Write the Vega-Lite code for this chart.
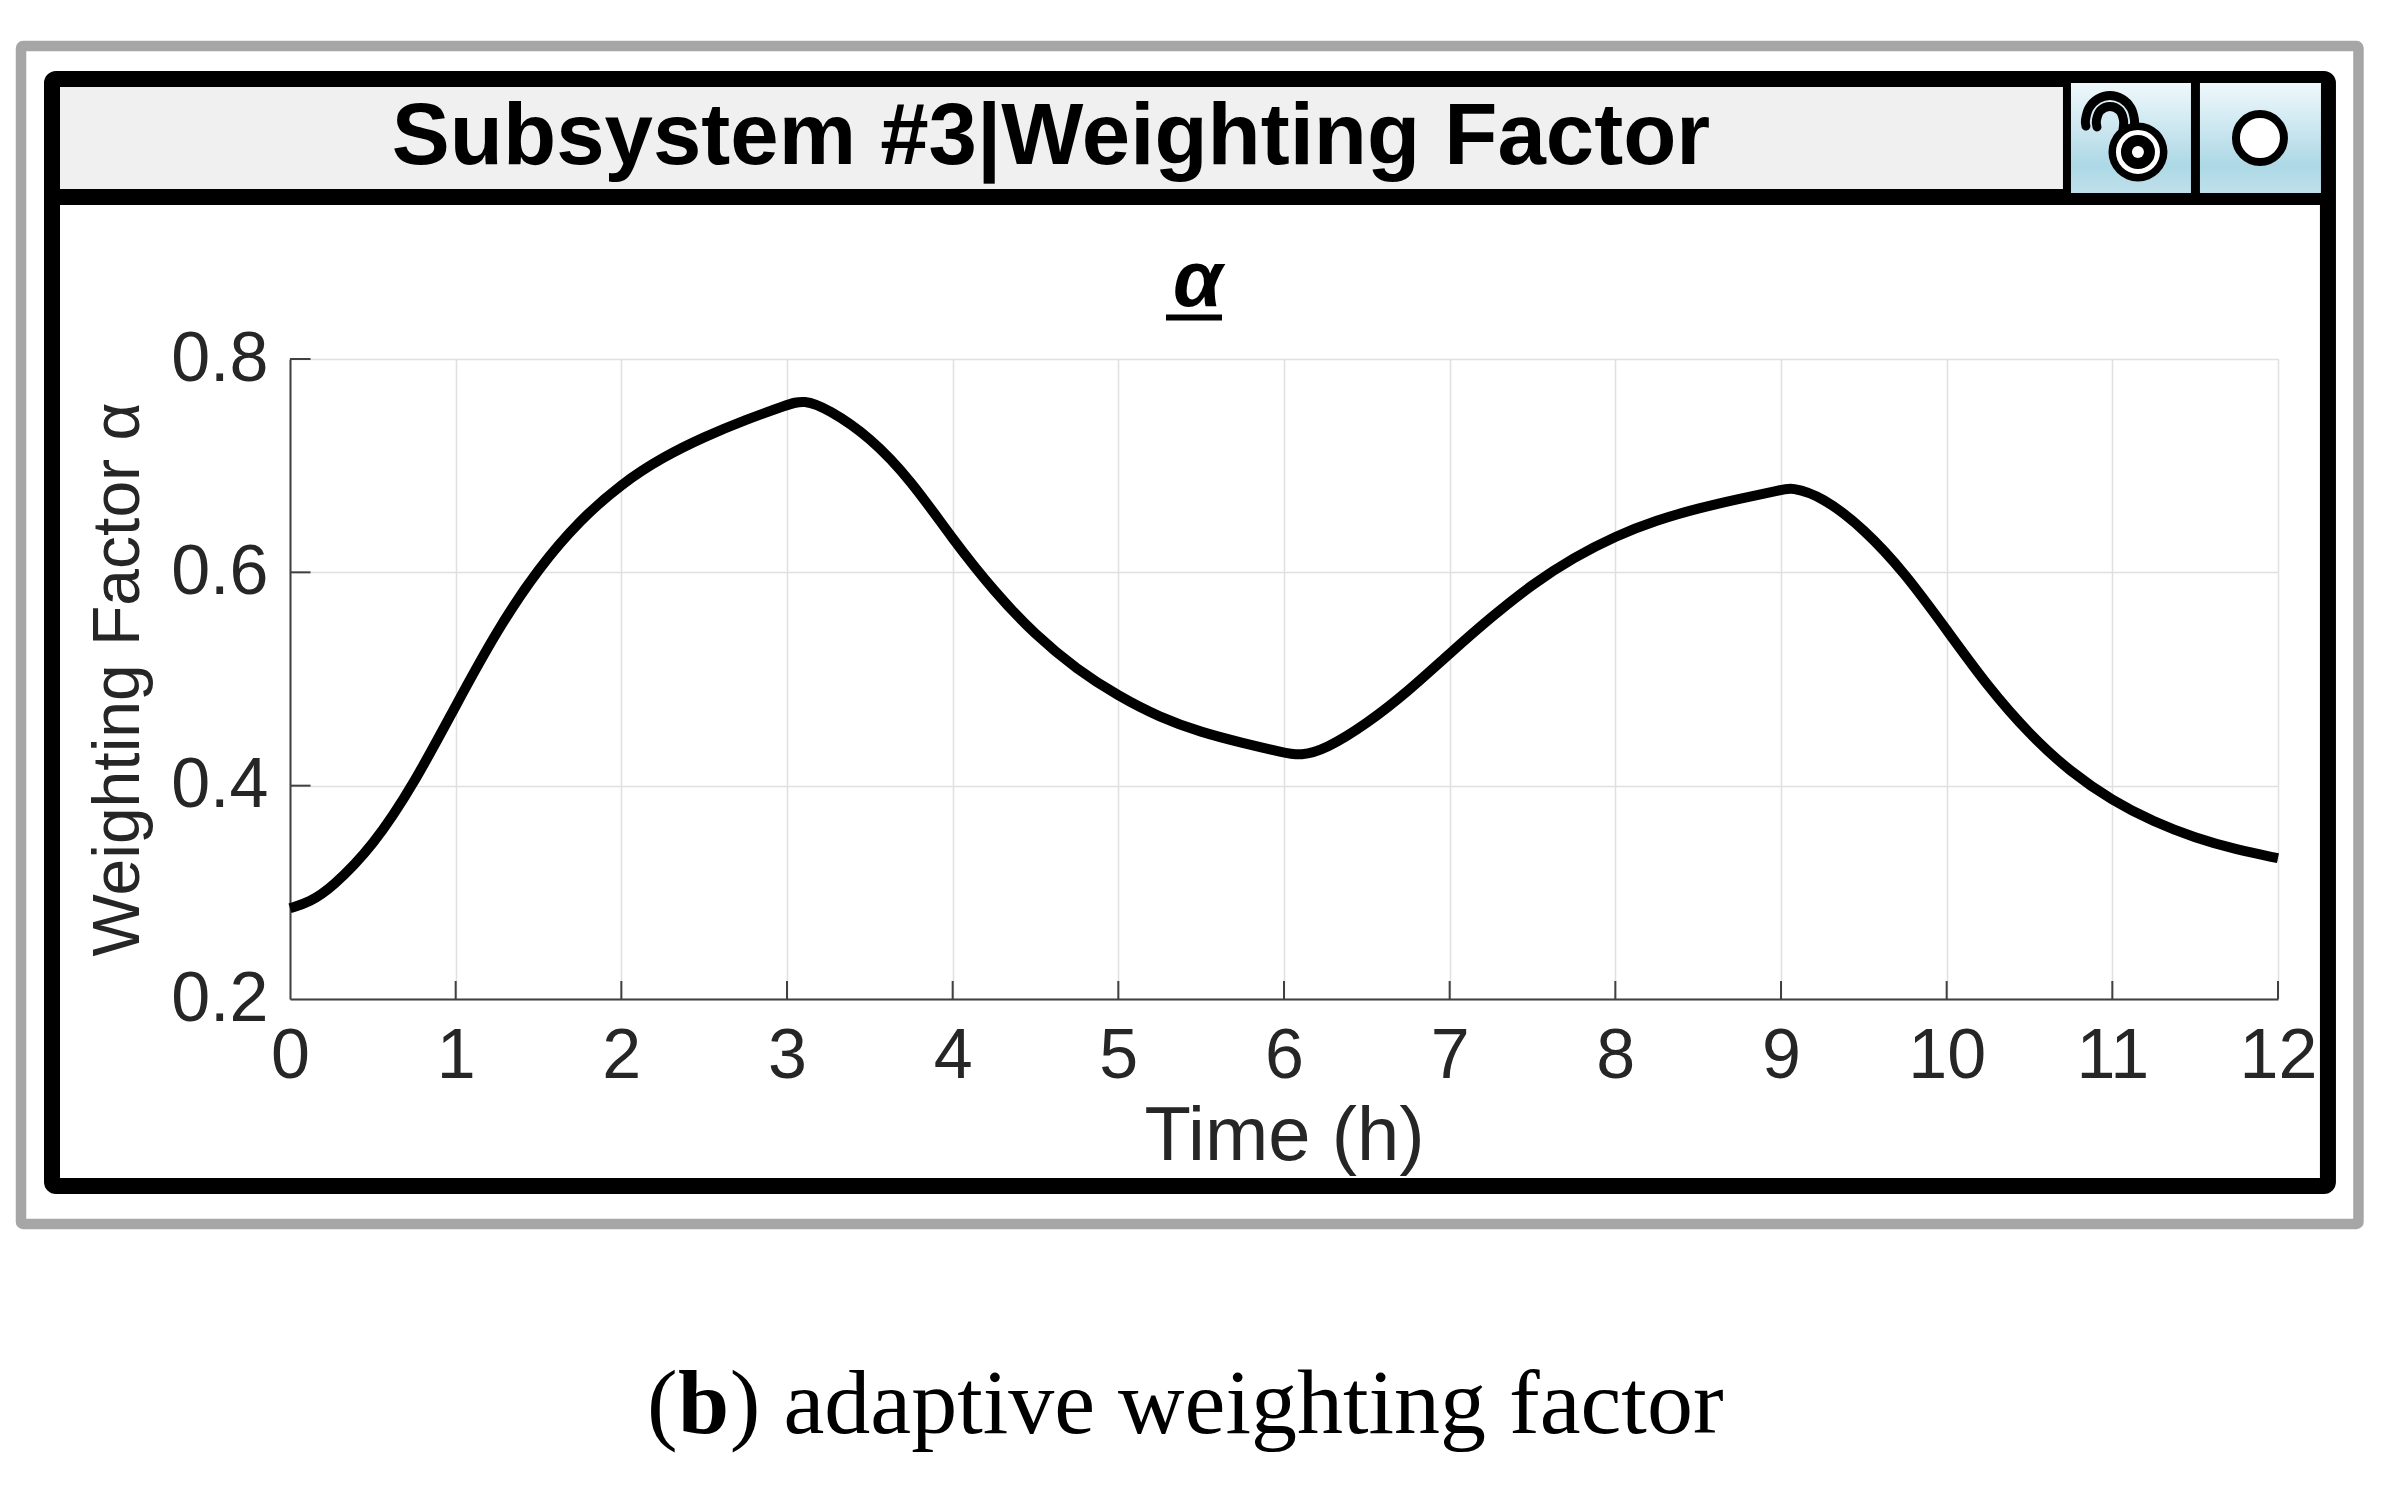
{
  "$schema": "https://vega.github.io/schema/vega-lite/v6.json",
  "width": 1988,
  "height": 640,
  "autosize": {"type": "none"},
  "padding": {"left": 290, "top": 359, "right": 118, "bottom": 489},
  "background": "white",
  "encoding": {
    "x": {"field": "h", "type": "quantitative", "scale": {"domain": [0, 12], "nice": false, "zero": false}},
    "y": {"field": "v", "type": "quantitative", "scale": {"domain": [0.2, 0.8], "nice": false, "zero": false}}
  },
  "layer": [
    {
      "data": {"values": [
        {"h": 0, "v": 0.285}, {"h": 0.12, "v": 0.291}, {"h": 0.25, "v": 0.304}, {"h": 0.5, "v": 0.343}, {"h": 0.75, "v": 0.402},
        {"h": 1, "v": 0.475}, {"h": 1.25, "v": 0.546}, {"h": 1.5, "v": 0.604}, {"h": 1.75, "v": 0.649},
        {"h": 2, "v": 0.683}, {"h": 2.25, "v": 0.708}, {"h": 2.5, "v": 0.727}, {"h": 2.75, "v": 0.743},
        {"h": 3, "v": 0.757}, {"h": 3.1, "v": 0.762}, {"h": 3.25, "v": 0.753}, {"h": 3.5, "v": 0.727},
        {"h": 3.75, "v": 0.686}, {"h": 4, "v": 0.631}, {"h": 4.25, "v": 0.582}, {"h": 4.5, "v": 0.541},
        {"h": 4.75, "v": 0.509}, {"h": 5, "v": 0.484}, {"h": 5.25, "v": 0.464}, {"h": 5.5, "v": 0.45},
        {"h": 5.75, "v": 0.44}, {"h": 6, "v": 0.431}, {"h": 6.1, "v": 0.428}, {"h": 6.25, "v": 0.434},
        {"h": 6.5, "v": 0.458}, {"h": 6.75, "v": 0.4885}, {"h": 7, "v": 0.524}, {"h": 7.25, "v": 0.558},
        {"h": 7.5, "v": 0.589}, {"h": 7.75, "v": 0.614}, {"h": 8, "v": 0.634}, {"h": 8.25, "v": 0.649},
        {"h": 8.5, "v": 0.66}, {"h": 8.75, "v": 0.669}, {"h": 9, "v": 0.677}, {"h": 9.06, "v": 0.68},
        {"h": 9.25, "v": 0.671}, {"h": 9.5, "v": 0.641}, {"h": 9.75, "v": 0.599}, {"h": 10, "v": 0.546},
        {"h": 10.25, "v": 0.4925}, {"h": 10.5, "v": 0.448}, {"h": 10.75, "v": 0.4125}, {"h": 11, "v": 0.386},
        {"h": 11.25, "v": 0.366}, {"h": 11.5, "v": 0.351}, {"h": 11.75, "v": 0.34}, {"h": 12, "v": 0.332}
      ]},
      "mark": {"type": "line", "color": "black", "strokeWidth": 10, "interpolate": "basis"},
      "encoding": {
        "x": {
          "field": "h", "type": "quantitative", "title": "Time (h)",
          "axis": {
            "values": [0, 1, 2, 3, 4, 5, 6, 7, 8, 9, 10, 11, 12], "format": "d",
            "ticks": false, "grid": true, "gridColor": "#e0e0e0", "gridWidth": 1.5,
            "domainColor": "#404040", "domainWidth": 2,
            "labelFont": "Liberation Sans", "labelFontSize": 70, "labelColor": "#262626",
            "labelPadding": 23, "labelAngle": 0, "labelOverlap": false, "labelFlush": false, "labelBound": false,
            "titleFont": "Liberation Sans", "titleFontSize": 76, "titleFontWeight": "normal", "titleColor": "#262626",
            "titlePadding": 8
          }
        },
        "y": {
          "field": "v", "type": "quantitative", "title": "Weighting Factor α",
          "axis": {
            "values": [0.2, 0.4, 0.6, 0.8], "format": ".1f",
            "ticks": false, "grid": true, "gridColor": "#e0e0e0", "gridWidth": 1.5,
            "domainColor": "#404040", "domainWidth": 2,
            "labelFont": "Liberation Sans", "labelFontSize": 70, "labelColor": "#262626",
            "labelPadding": 22, "labelOverlap": false, "labelFlush": false, "labelBound": false,
            "titleFont": "Liberation Sans", "titleFontSize": 66, "titleFontWeight": "normal", "titleColor": "#262626",
            "titlePadding": 18
          }
        }
      }
    },
    {
      "data": {"values": [
        {"h": 1, "v": 0.2, "v2": 0.2169}, {"h": 2, "v": 0.2, "v2": 0.2169}, {"h": 3, "v": 0.2, "v2": 0.2169},
        {"h": 4, "v": 0.2, "v2": 0.2169}, {"h": 5, "v": 0.2, "v2": 0.2169}, {"h": 6, "v": 0.2, "v2": 0.2169},
        {"h": 7, "v": 0.2, "v2": 0.2169}, {"h": 8, "v": 0.2, "v2": 0.2169}, {"h": 9, "v": 0.2, "v2": 0.2169},
        {"h": 10, "v": 0.2, "v2": 0.2169}, {"h": 11, "v": 0.2, "v2": 0.2169}, {"h": 12, "v": 0.2, "v2": 0.2169}
      ]},
      "mark": {"type": "rule", "color": "#404040", "strokeWidth": 2},
      "encoding": {"y2": {"field": "v2"}}
    },
    {
      "data": {"values": [
        {"h": 0, "h2": 0.124, "v": 0.4}, {"h": 0, "h2": 0.124, "v": 0.6}, {"h": 0, "h2": 0.124, "v": 0.8}
      ]},
      "mark": {"type": "rule", "color": "#404040", "strokeWidth": 2},
      "encoding": {"x2": {"field": "h2"}}
    },
    {
      "data": {"values": [{"h": -1.6237, "h2": 12.4857, "v": 1.0934, "v2": -0.0109}]},
      "mark": {"type": "rect", "fillOpacity": 0, "stroke": "#a6a6a6", "strokeWidth": 10.5, "cornerRadius": 2},
      "encoding": {"x2": {"field": "h2"}, "y2": {"field": "v2"}}
    },
    {
      "data": {"values": [{"h": -1.3883, "h2": 10.702, "v": 1.055, "v2": 0.9584}]},
      "mark": {"type": "rect", "color": "#f0f0f0"},
      "encoding": {"x2": {"field": "h2"}, "y2": {"field": "v2"}}
    },
    {
      "data": {"values": [{"h": -1.4366, "h2": 12.3015, "v": 1.0625, "v2": 0.0247}]},
      "mark": {"type": "rect", "fillOpacity": 0, "stroke": "black", "strokeWidth": 16, "cornerRadius": 4},
      "encoding": {"x2": {"field": "h2"}, "y2": {"field": "v2"}}
    },
    {
      "data": {"values": [
        {"h": -1.4366, "h2": 12.3015, "v": 0.9594, "v2": 0.9444},
        {"h": 10.702, "h2": 12.3015, "v": 1.055, "v2": 0.9444}
      ]},
      "mark": {"type": "rect", "color": "black"},
      "encoding": {"x2": {"field": "h2"}, "y2": {"field": "v2"}}
    },
    {
      "data": {"values": [
        {"h": 10.7503, "h2": 11.4746, "v": 1.0587, "v2": 0.9556},
        {"h": 11.5289, "h2": 12.2593, "v": 1.0587, "v2": 0.9556}
      ]},
      "mark": {
        "type": "rect",
        "color": {
          "gradient": "linear", "x1": 0, "y1": 0, "x2": 0, "y2": 1,
          "stops": [
            {"offset": 0, "color": "#f0f8fb"},
            {"offset": 0.75, "color": "#add8e6"},
            {"offset": 1, "color": "#bfe0ea"}
          ]
        }
      },
      "encoding": {"x2": {"field": "h2"}, "y2": {"field": "v2"}}
    },
    {
      "data": {"values": [
        {"arc": "outer", "seq": 1, "h": 10.8408, "v": 1.0184}, {"arc": "outer", "seq": 2, "h": 10.8378, "v": 1.0241},
        {"arc": "outer", "seq": 3, "h": 10.859, "v": 1.0353}, {"arc": "outer", "seq": 4, "h": 10.9133, "v": 1.0438},
        {"arc": "outer", "seq": 5, "h": 10.9858, "v": 1.047}, {"arc": "outer", "seq": 6, "h": 11.0582, "v": 1.0438},
        {"arc": "outer", "seq": 7, "h": 11.1125, "v": 1.0353}, {"arc": "outer", "seq": 8, "h": 11.1336, "v": 1.0241},
        {"arc": "outer", "seq": 9, "h": 11.1306, "v": 1.0166},
        {"arc": "inner", "seq": 1, "h": 10.9073, "v": 1.0175}, {"arc": "inner", "seq": 2, "h": 10.9042, "v": 1.0241},
        {"arc": "inner", "seq": 3, "h": 10.9284, "v": 1.033}, {"arc": "inner", "seq": 4, "h": 10.9858, "v": 1.0367},
        {"arc": "inner", "seq": 5, "h": 11.0431, "v": 1.033}, {"arc": "inner", "seq": 6, "h": 11.0673, "v": 1.0241},
        {"arc": "inner", "seq": 7, "h": 11.0642, "v": 1.0147}
      ]},
      "mark": {"type": "line", "color": "black", "strokeWidth": 9, "strokeCap": "round", "interpolate": "cardinal"},
      "encoding": {"detail": {"field": "arc"}, "order": {"field": "seq"}}
    },
    {
      "data": {"values": [{"h": 11.1547, "v": 0.9941}]},
      "mark": {"type": "point", "shape": "circle", "filled": true, "color": "black", "opacity": 1, "size": 3481}
    },
    {
      "data": {"values": [{"h": 11.1547, "v": 0.9941}]},
      "mark": {"type": "point", "shape": "circle", "fill": "black", "fillOpacity": 1, "stroke": "white", "strokeWidth": 5, "opacity": 1, "size": 1521}
    },
    {
      "data": {"values": [{"h": 11.1547, "v": 0.9941}]},
      "mark": {"type": "point", "shape": "circle", "filled": true, "color": "white", "opacity": 1, "size": 144}
    },
    {
      "data": {"values": [{"h": 11.8911, "v": 1.0072}]},
      "mark": {"type": "point", "shape": "circle", "fill": "white", "fillOpacity": 1, "stroke": "black", "strokeWidth": 8, "opacity": 1, "size": 2304}
    },
    {
      "data": {"values": [{"h": 4.5935, "v": 1.0072, "label": "Subsystem #3|Weighting Factor"}]},
      "mark": {"type": "text", "font": "Liberation Sans", "fontSize": 87, "fontWeight": "bold", "color": "black", "align": "center", "baseline": "middle"},
      "encoding": {"text": {"field": "label"}}
    },
    {
      "data": {"values": [{"h": 5.48, "v": 0.8722, "label": "α"}]},
      "mark": {"type": "text", "font": "Liberation Sans", "fontSize": 80, "fontWeight": "bold", "fontStyle": "italic", "color": "black", "align": "center", "baseline": "middle"},
      "encoding": {"text": {"field": "label"}}
    },
    {
      "data": {"values": [{"h": 5.2877, "h2": 5.6257, "v": 0.8389}]},
      "mark": {"type": "rule", "color": "black", "strokeWidth": 6},
      "encoding": {"x2": {"field": "h2"}}
    },
    {
      "data": {"values": [
        {"h": 2.155, "v": -0.1806, "label": "("},
        {"h": 2.655, "v": -0.1806, "label": ") adaptive weighting factor"}
      ]},
      "mark": {"type": "text", "font": "Liberation Serif", "fontSize": 92, "color": "black", "align": "left", "baseline": "middle"},
      "encoding": {"text": {"field": "label"}}
    },
    {
      "data": {"values": [{"h": 2.342, "v": -0.1806, "label": "b"}]},
      "mark": {"type": "text", "font": "Liberation Serif", "fontSize": 92, "fontWeight": "bold", "color": "black", "align": "left", "baseline": "middle"},
      "encoding": {"text": {"field": "label"}}
    }
  ]
}
